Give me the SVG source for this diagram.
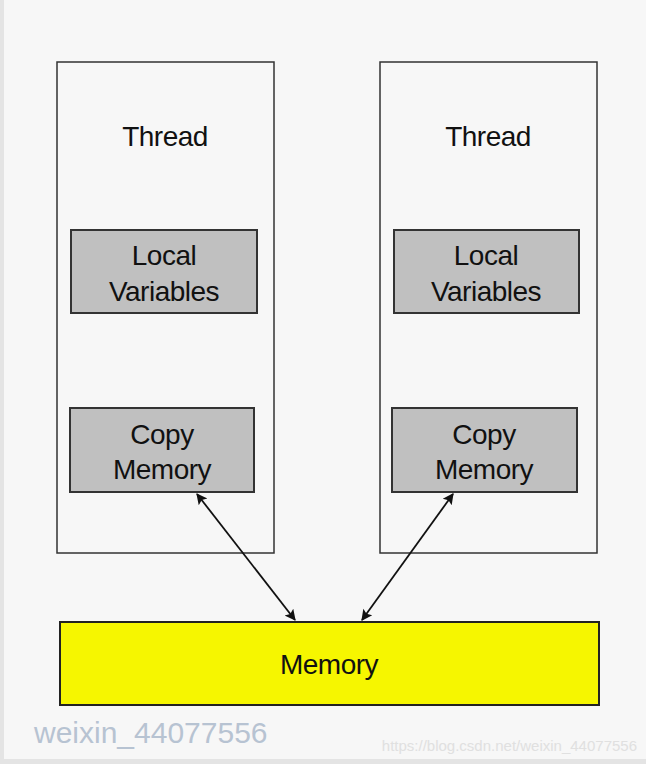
<svg xmlns="http://www.w3.org/2000/svg" width="646" height="764" viewBox="0 0 646 764">
<defs>
<style>
.t{font-family:"Liberation Sans",Arial,sans-serif;font-size:28px;fill:#111;text-anchor:middle;letter-spacing:-0.5px}
.th{fill:#f7f7f7;stroke:#333;stroke-width:1.5}
.g{fill:#c0c0c0;stroke:#333;stroke-width:2}
.c{stroke:#111;stroke-width:1.8;fill:none;marker-start:url(#a);marker-end:url(#a)}
</style>
<marker id="a" viewBox="0 0 10 10" refX="9" refY="5" markerWidth="16" markerHeight="11" orient="auto-start-reverse" markerUnits="userSpaceOnUse"><path d="M0,0 L10,5 L0,10 L2,5 z" fill="#111"/></marker>
</defs>
<rect width="646" height="764" fill="#e4e4e4"/>
<rect x="4" y="0" width="642" height="759" fill="#f7f7f7"/>
<g id="thread1"><rect class="th" x="57" y="62" width="217" height="491"/><text class="t" x="165" y="146">Thread</text></g>
<g id="thread2"><rect class="th" x="380" y="62" width="217" height="491"/><text class="t" x="488" y="146">Thread</text></g>
<g id="local1"><rect class="g" x="71" y="230" width="186" height="83"/><text class="t" x="164" y="265">Local</text><text class="t" x="164" y="301">Variables</text></g>
<g id="local2"><rect class="g" x="394" y="230" width="185" height="83"/><text class="t" x="486" y="265">Local</text><text class="t" x="486" y="301">Variables</text></g>
<g id="copy1"><rect class="g" x="70" y="408" width="184" height="84"/><text class="t" x="162" y="444">Copy</text><text class="t" x="162" y="479">Memory</text></g>
<g id="copy2"><rect class="g" x="392" y="408" width="185" height="84"/><text class="t" x="484" y="444">Copy</text><text class="t" x="484" y="479">Memory</text></g>
<g id="memory"><rect x="60" y="622" width="539" height="83" fill="#f6f600" stroke="#222" stroke-width="2"/><text class="t" x="329" y="674">Memory</text></g>
<g id="connectors">
<line class="c" x1="197" y1="494" x2="295" y2="620"/>
<line class="c" x1="453" y1="494" x2="362" y2="620"/>
</g>
<text x="34" y="743" font-family="Liberation Sans,Arial,sans-serif" font-size="30" fill="#b7c3d2">weixin_44077556</text>
<text x="637" y="751" font-family="Liberation Sans,Arial,sans-serif" font-size="15" fill="#e0e0e0" text-anchor="end">https://blog.csdn.net/weixin_44077556</text>
</svg>
